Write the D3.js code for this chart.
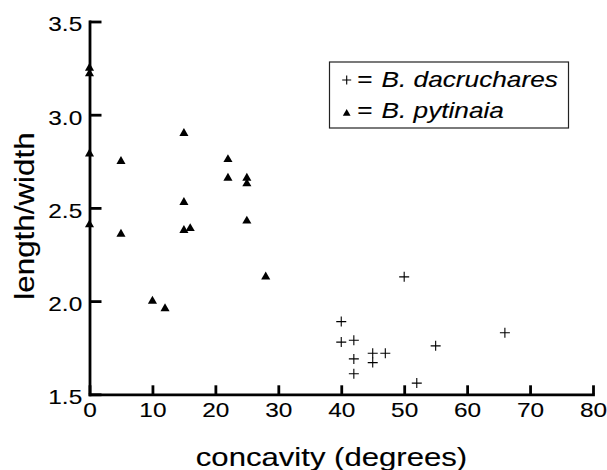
<!DOCTYPE html>
<html>
<head>
<meta charset="utf-8">
<script src="https://cdn.jsdelivr.net/npm/d3@7"></script>
<style>
  html, body { margin: 0; padding: 0; background: #fff; }
  svg text { font-family: "Liberation Sans", Arial, Helvetica, sans-serif; fill: #000; stroke: #000; stroke-width: 0.12px; }
</style>
</head>
<body>
<div id="chart"></div>
<script>
// data
var xTicks = [0, 10, 20, 30, 40, 50, 60, 70, 80];
var yTicks = [1.5, 2.0, 2.5, 3.0, 3.5];
var seriesNames = ["B. dacruchares", "B. pytinaia"];

var dacruX = [50, 40, 40, 42, 42, 42, 45, 45, 47, 52, 55, 66];
var dacruY = [2.13, 1.89, 1.78, 1.79, 1.69, 1.61, 1.72, 1.67, 1.72, 1.56, 1.76, 1.83];

var pytiX = [0, 0, 0, 0, 5, 5, 10, 12, 15, 15, 15, 16, 22, 22, 25, 25, 25, 28];
var pytiY = [3.25, 3.22, 2.79, 2.41, 2.75, 2.36, 2.00, 1.96, 2.90, 2.53, 2.38, 2.39, 2.76, 2.66, 2.66, 2.63, 2.43, 2.13];

var width = 607;
var height = 470;
var stretch = 1.22;   // the type in the figure is set wide

var svg = d3.select("#chart").append("svg")
    .attr("width", width)
    .attr("height", height)
    .attr("xmlns", "http://www.w3.org/2000/svg");

var x = d3.scaleLinear().domain([0, 80]).range([89.5, 593]);
var y = d3.scaleLinear().domain([1.5, 3.5]).range([394.3, 21.5]);

// x axis, ticks pointing up into the plot
var xAxis = svg.append("g")
    .attr("transform", "translate(0," + y(1.5) + ")")
    .call(d3.axisBottom(x)
        .tickValues(xTicks)
        .tickSizeInner(-9)
        .tickSizeOuter(0)
        .tickPadding(9)
        .tickFormat(d3.format("d")));

// y axis, ticks pointing right
var yAxis = svg.append("g")
    .attr("transform", "translate(" + x(0) + ",0)")
    .call(d3.axisLeft(y)
        .tickValues(yTicks)
        .tickSizeInner(-12)
        .tickSizeOuter(0)
        .tickFormat(d3.format(".1f")));

svg.selectAll(".domain")
    .attr("stroke", "#000")
    .attr("stroke-width", 2.8)
    .attr("stroke-linecap", "square");

svg.selectAll(".tick line")
    .attr("stroke", "#000")
    .attr("stroke-width", 2.8);

xAxis.selectAll(".tick text")
    .attr("font-size", 20)
    .attr("transform", "scale(" + stretch + ",1)");

yAxis.selectAll(".tick text")
    .attr("font-size", 20)
    .attr("x", -7.3 / stretch)
    .attr("dy", "0.47em")
    .attr("transform", "scale(" + stretch + ",1)");

svg.selectAll("g").attr("font-family", null).attr("font-size", null);

// axis titles
svg.append("text")
    .attr("transform", "translate(331.5,466) scale(" + stretch + ",1)")
    .attr("text-anchor", "middle")
    .attr("font-size", 25.5)
    .text("concavity (degrees)");

svg.append("text")
    .attr("transform", "translate(34,216) rotate(-90) scale(1.12,1)")
    .attr("text-anchor", "middle")
    .attr("font-size", 28)
    .text("length/width");

// markers
var plusPath = "M-5,0H5M0,-5V5";
var triangle = d3.symbol().type(d3.symbolTriangle).size(36);

svg.append("g").selectAll("path")
    .data(d3.range(dacruX.length))
    .enter().append("path")
    .attr("transform", function(i){ return "translate(" + x(dacruX[i]) + "," + y(dacruY[i]) + ")"; })
    .attr("d", plusPath)
    .attr("fill", "none")
    .attr("stroke", "#000")
    .attr("stroke-width", 1.1);

svg.append("g").selectAll("path")
    .data(d3.range(pytiX.length))
    .enter().append("path")
    .attr("transform", function(i){ return "translate(" + x(pytiX[i]) + "," + y(pytiY[i]) + ")"; })
    .attr("d", triangle)
    .attr("fill", "#000");

// legend
var legend = svg.append("g");

legend.append("rect")
    .attr("x", 329.5)
    .attr("y", 62)
    .attr("width", 239)
    .attr("height", 66)
    .attr("fill", "#fff")
    .attr("stroke", "#222")
    .attr("stroke-width", 1.2);

var rows = [86.5, 118];

legend.append("path")
    .attr("transform", "translate(346.7," + (rows[0] - 6.5) + ")")
    .attr("d", "M-4.5,0H4.5M0,-4.5V4.5")
    .attr("fill", "none")
    .attr("stroke", "#000")
    .attr("stroke-width", 1.1);

legend.append("path")
    .attr("transform", "translate(346.7," + (rows[1] - 4.5) + ")")
    .attr("d", d3.symbol().type(d3.symbolTriangle).size(26))
    .attr("fill", "#000");

seriesNames.forEach(function(name, i){
    legend.append("text")
        .attr("transform", "translate(365," + rows[i] + ") scale(" + stretch + ",1)")
        .attr("text-anchor", "middle")
        .attr("font-size", 21.5)
        .text("=");
    legend.append("text")
        .attr("transform", "translate(381.5," + rows[i] + ") scale(" + stretch + ",1)")
        .attr("font-size", 21.5)
        .attr("font-style", "italic")
        .text(name);
});
</script>
</body>
</html>
